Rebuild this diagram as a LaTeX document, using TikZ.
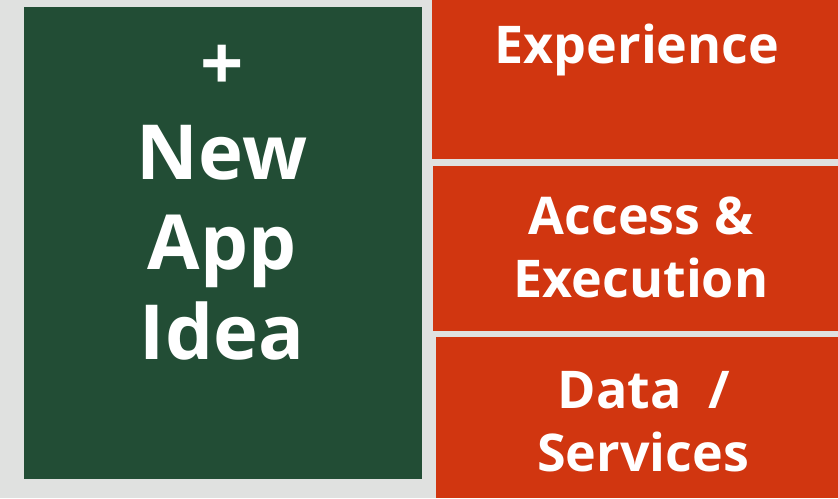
\documentclass[tikz,border=0pt]{standalone}
\usepackage{fontspec}
\setmainfont{Open Sans}
\definecolor{ideagreen}{RGB}{34,77,53}
\definecolor{layerred}{RGB}{209,54,16}
\definecolor{backgray}{RGB}{224,225,224}

\begin{document}
\begin{tikzpicture}[x=1pt,y=-1pt]
  % Styles
  \tikzset{
    box/.style={inner sep=0pt, outer sep=0pt, draw=none},
    ideabox/.style={box, fill=ideagreen},
    layerbox/.style={box, fill=layerred},
    bigtext/.style={text=white, inner sep=0pt, anchor=base,
      font=\fontsize{76}{90}\bfseries\selectfont},
    layertext/.style={text=white, inner sep=0pt, anchor=base,
      font=\fontsize{52}{63}\bfseries\selectfont}
  }

  % Background
  \fill[backgray] (0,0) rectangle (838,498);
  \useasboundingbox (0,0) rectangle (838,498);

  % New app idea
  \node[ideabox, minimum width=398pt, minimum height=472pt] (idea) at (223,243) {};
  \node[bigtext] (plus) at (222,90) {+};
  \node[bigtext] (new) at (222,179) {New};
  \node[bigtext] (app) at (222,269) {App};
  \node[bigtext] (ideatxt) at (222,359) {Idea};

  % Layers
  \node[layerbox, minimum width=406pt, minimum height=159pt] (experience) at (635,79.5) {};
  \node[layertext] (exptxt) at (637,63) {Experience};

  \node[layerbox, minimum width=405pt, minimum height=165pt] (access) at (635.5,248.5) {};
  \node[layertext] (acctxt) at (641,234) {Access \&};
  \node[layertext] (exectxt) at (641,297) {Execution};

  \node[layerbox, minimum width=402pt, minimum height=161pt] (data) at (637,417.5) {};
  \node[layertext] (datatxt) at (644,408) {Data\ \ /};
  \node[layertext] (servtxt) at (643,471) {Services};
\end{tikzpicture}
\end{document}
